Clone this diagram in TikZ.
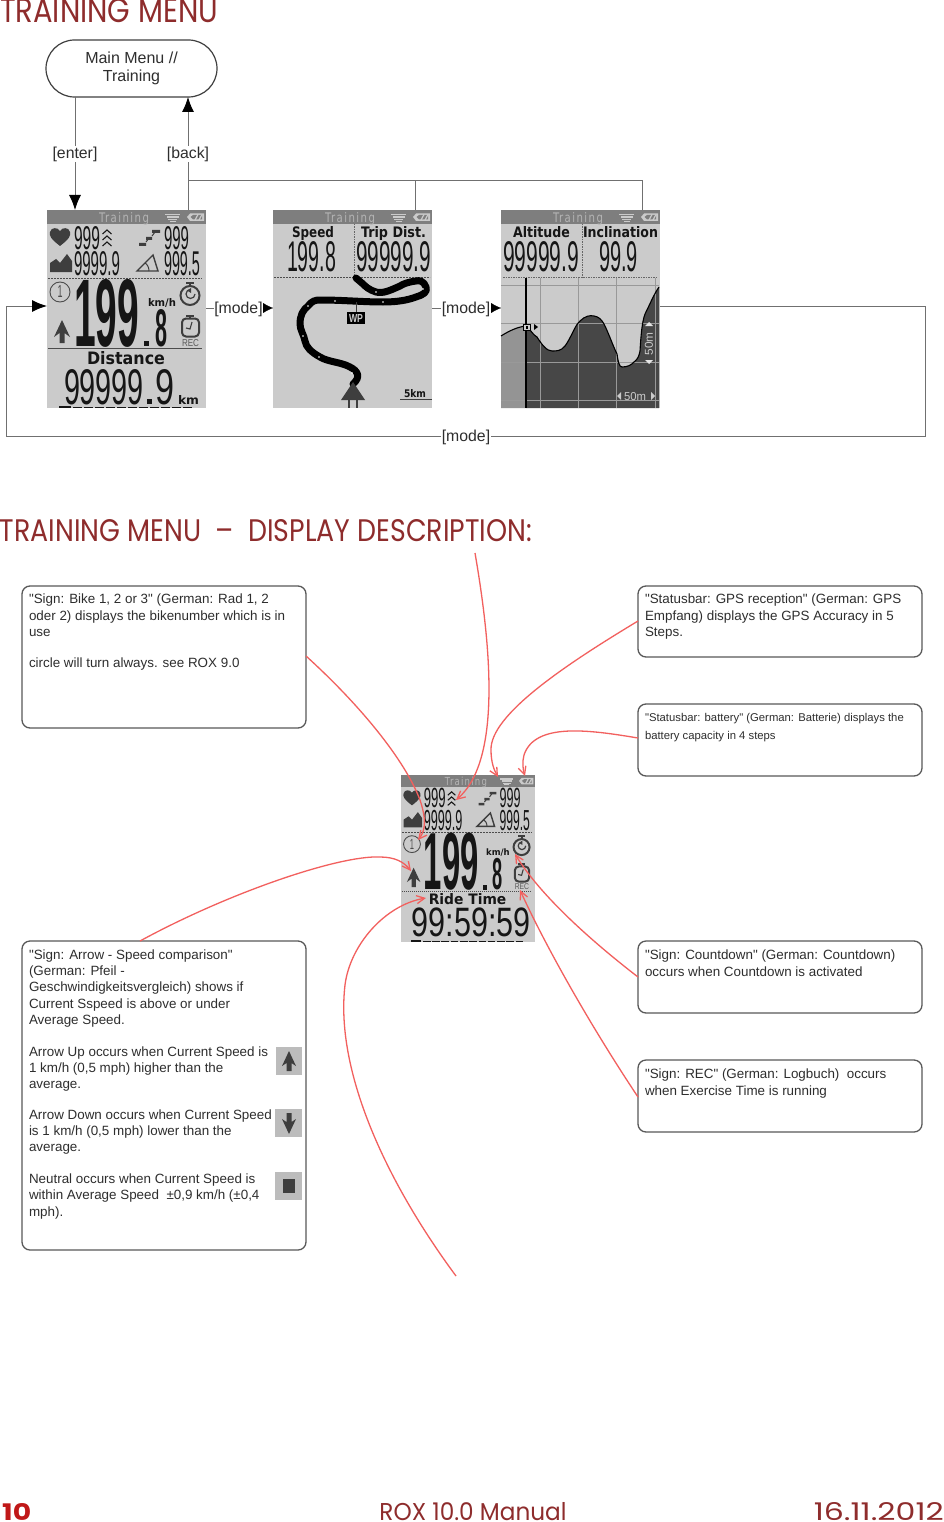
\documentclass[tikz,border=0pt]{standalone}
\usepackage{fontspec}
\usepackage{graphicx}
\setmainfont{Liberation Sans}
\newfontfamily\bodyf{Liberation Sans}
\newfontfamily\titlefont{Poppins}
\newfontfamily\lcdfont{Liberation Sans}
\newfontfamily\labfont{DejaVu Sans}
\usetikzlibrary{arrows.meta,shapes.misc}
\definecolor{lcdbg}{HTML}{CBCBCB}
\definecolor{lcdhead}{HTML}{7E7E7E}
\definecolor{lcdheadtxt}{HTML}{B4B4B4}
\definecolor{lcddark}{HTML}{3E3E3E}
\definecolor{lcdink}{HTML}{161616}
\definecolor{titlered}{HTML}{8E2C2C}
\definecolor{footred}{HTML}{C01818}
\definecolor{callout}{HTML}{F2605E}
\definecolor{wire}{HTML}{707070}
\definecolor{bodytxt}{HTML}{2E2E2E}
\definecolor{iconbg}{HTML}{BCBCBC}
\newcounter{tn}
\tikzset{
  x=1pt,y=-1pt,
  wireln/.style={draw=wire,line width=1pt},
  bigtip/.style={-{Latex[black,length=15pt,width=12pt]}},
  smalltip/.style={-{Latex[black,length=10pt,width=10pt]}},
  edgelab/.style={fill=white,inner sep=.5pt,font=\bodyf\fontsize{15.8}{17}\selectfont,text=bodytxt},
  menubox/.style={rounded rectangle,draw=black!75,line width=1.2pt,fill=white,minimum width=171pt,minimum height=57pt,inner sep=0pt,align=center,font=\bodyf\fontsize{16}{18}\selectfont,text=bodytxt},
  screen/.style={rectangle,fill=lcdbg,minimum width=159pt,minimum height=198pt,inner sep=0pt,outer sep=0pt,anchor=north west},
  lcdn/.style={inner sep=0pt,outer sep=0pt,anchor=north west,transform shape,text=lcdink},
  txtbox/.style={rectangle,rounded corners=8pt,draw=black!65,line width=1.3pt,fill=white},
  txtn/.style={inner sep=0pt,outer sep=0pt,anchor=north west,align=left,text=bodytxt},
  calloutln/.style={draw=callout,line width=1.3pt,-{Straight Barb[length=8pt,width=8pt]}},
  hdash/.style={draw=black!70,line width=.8pt,dash pattern=on 2pt off 1pt},
  vdash/.style={draw=black!60,line width=.8pt,dash pattern=on 1.5pt off 1pt},
}
% fit text exactly in box x,y,w,h
\newcommand\fit[6][lcdink]{\stepcounter{tn}\node[lcdn,text=#1] (t\arabic{tn}) at (#2,#3) {\resizebox{#4pt}{#5pt}{#6}};}
\newcommand\dg[5]{\fit{#1}{#2}{#3}{#4}{\lcdfont #5}}
\newcommand\bdg[5]{\fit{#1}{#2}{#3}{#4}{\lcdfont\bfseries #5}}
\newcommand\lab[5]{\fit{#1}{#2}{#3}{#4}{\labfont\bfseries #5}}
% header bar with icons
\newcommand\headbar{%
  \fill[lcdhead] (0,0) rectangle (159,14);
  \fit[lcdheadtxt]{52}{3}{50}{10}{\labfont\addfontfeature{LetterSpace=14}Training}
  \foreach \yy/\a in {4/0,6.5/1.5,9/3,11/4.5}{\fill[lcdbg] (118+\a,\yy) rectangle (133-\a,\yy+1.4);}
  \fill[lcdbg] (143,3.5) -- (157,3.5) -- (157,11) -- (143,11) -- (140,7) -- cycle;
  \fill[lcdhead] (146,5) -- (155,5) -- (155,9.5) -- (146,9.5) -- (143.5,7) -- cycle;
  \draw[lcdbg,line width=1.2pt] (148,10) -- (151,4.5) (152,10) -- (155,4.5);
}
\newcommand\bikeicon[2]{\begin{scope}[shift={(#1,#2)}]
  \draw[black!70,line width=.9pt] (0,0) circle (10);
  \fit[black!70]{-2.5}{-6}{5}{12}{\lcdfont 1}
\end{scope}}
\newcommand\upscreen{%
  \headbar
  % heart
  \fill[lcddark] (13,36) .. controls (4,29) and (2,26) .. (3,22) .. controls (4,17) and (11,17) .. (13,21) .. controls (15,17) and (22,17) .. (23,22) .. controls (24,26) and (22,29) .. (13,36) -- cycle;
  \dg{27}{16}{26}{23}{999}
  % chevrons
  \foreach \yy in {20,26,32}{\draw[lcdink,line width=1.1pt] (55.5,\yy+4) -- (60,\yy) -- (64.5,\yy+4);}
  % stairs
  \fill[lcddark] (92,33) rectangle (99,36) (99,27) rectangle (105,30) (105,20) rectangle (113,23);
  \draw[lcddark,line width=1pt] (99,32) -- (102,28) (105,26) -- (108,22);
  \dg{117}{16}{25}{23}{999}
  % mountain
  \fill[lcddark] (3,62) -- (3,53) -- (9,49) -- (13,53) -- (20,44) -- (25,51) -- (25,62) -- cycle;
  \dg{27}{42}{46}{24}{9999.9}
  % angle
  \draw[lcddark,line width=1.4pt] (90,61) -- (111,61) -- (106,45) -- cycle;
  \draw[lcddark,line width=1pt] (102,61) .. controls (102,57) and (100,54) .. (98,53);
  \dg{117}{42}{36}{24}{999.5}
  \draw[hdash] (1,68) -- (155,68);
  \bikeicon{13}{82}
  \bdg{27}{69}{65}{67}{199}
  \fill[lcdink] (97,131) rectangle (102,136);
  \bdg{108}{99}{12}{37}{8}
  \lab{101}{88}{28}{8}{km/h}
  % countdown timer
  \draw[lcddark,line width=2pt] (143,85.5) circle (9.5);
  \draw[lcddark,line width=2pt] (139,72.5) -- (147,72.5) (143,72.5) -- (143,76);
  \draw[lcddark,line width=1.2pt] (148,84) arc (0:270:4.5);
  \fill[lcddark] (143,76.5) ++(-3,4) -- ++(4,-2.5) -- ++(0,5) -- cycle;
  % rec clock
  \draw[lcddark,line width=2pt,rounded corners=4pt] (135,108.5) rectangle (152,126.5);
  \draw[lcddark,line width=2pt] (139,105.5) -- (147,105.5) (143,105.5) -- (143,108.5);
  \draw[lcddark,line width=1.1pt] (145,112) -- (143,119) -- (139,118);
  \fit[black!65]{135}{129}{17}{7}{\lcdfont REC}
  % speed arrow
  \fill[lcddark] (15,110) -- (23,127) -- (17.5,123) -- (17.5,133) -- (12.5,133) -- (12.5,123) -- (7,127) -- cycle;
  \draw[hdash,dash pattern=on 1.5pt off .5pt] (1,138) -- (155,138);
}
\newcommand\progressbar{%
  \fill[lcdink] (12,195.5) rectangle (24,198);
  \foreach \q in {26,37,...,136}{\fill[lcdink] (\q,196.5) rectangle (\q+9,197.3);}
}
\begin{document}
\begin{tikzpicture}
\useasboundingbox (0,0) rectangle (944,1522);
\fill[white] (0,0) rectangle (944,1522);
% ---- titles
\node[lcdn,text=titlered] (title1) at (0,-2) {\resizebox{218pt}{24pt}{\titlefont TRAINING MENU}};
\node[lcdn,text=titlered] (title2) at (0,519) {\resizebox{532pt}{22pt}{\titlefont TRAINING MENU\ \ –\ \ DISPLAY DESCRIPTION:}};
% ---- top flow
\node[menubox] (menu) at (131.5,68.5) {Main Menu //\\Training};
\node[screen] (s1) at (47,210) {};
\node[screen] (s2) at (273,210) {};
\node[screen] (s3) at (501,210) {};
% screen 1
\begin{scope}[shift={(47,210)}]
  \upscreen
  \lab{40}{141}{78}{13}{Distance}
  \dg{17}{159}{80}{35}{99999}
  \fill[lcdink] (100,189) rectangle (105,194);
  \dg{108}{159}{19}{35}{9}
  \lab{131}{185}{21}{9}{km}
  \progressbar
\end{scope}
% screen 2
\begin{scope}[shift={(273,210)}]
  \headbar
  \lab{19}{16}{42}{11}{Speed}
  \dg{14}{32}{49}{30}{199.8}
  \draw[vdash] (81,14) -- (81,67);
  \lab{88}{16}{65}{11}{Trip Dist.}
  \dg{83}{32}{75}{30}{99999.9}
  \draw[hdash] (1,67) -- (157,67);
  \draw[black,line width=7pt,line cap=round,line join=round]
    (80,174) .. controls (88,167) and (85,161) .. (77,157)
    .. controls (68,152) and (55,152) .. (47,147)
    .. controls (38,142) and (33,137) .. (32,131)
    .. controls (31,125) and (27,120) .. (27,114)
    .. controls (27,105) and (30,100) .. (35,96)
    .. controls (39,91) and (42,90) .. (47,90)
    .. controls (70,90) and (90,92) .. (110,92)
    .. controls (125,92) and (135,90) .. (143,87)
    .. controls (150,85) and (155,82) .. (153,77)
    .. controls (151,71) and (146,70) .. (143,71)
    .. controls (135,72) and (130,74) .. (127,76)
    .. controls (118,80) and (110,84) .. (103,82)
    .. controls (96,80) and (92,76) .. (90,74)
    -- (83,68);
  \foreach \px/\py in {79/163, 46/147, 30/126, 35/96, 62/91, 110/92, 150/79, 103/82}{\fill[white] (\px,\py) circle (.9);}
  \draw[lcddark,line width=1pt] (83,92) -- (83,102);
  \fill[black] (74,102) rectangle (92,114);
  \fit[lcdbg]{76}{104}{14}{8}{\lcdfont\bfseries WP}
  \fill[lcddark] (80,172) -- (92,190) -- (68,190) -- cycle;
  \draw[lcddark,line width=1.5pt] (76,188) -- (76,198) (84,188) -- (84,198);
  \lab{131}{179}{22}{8}{5km}
  \draw[lcddark,line width=1pt] (127,189) -- (159,189);
\end{scope}
% screen 3
\begin{scope}[shift={(501,210)}]
  \headbar
  \lab{12}{16}{57}{11}{Altitude}
  \lab{82}{16}{75}{11}{Inclination}
  \dg{2}{32}{76}{30}{99999.9}
  \dg{98}{32}{39}{30}{99.9}
  \draw[vdash] (81,14) -- (81,67);
  \draw[vdash] (2,67) -- (157,67);
  \fill[black!42] (0,198) -- (0,126) .. controls (8,121) and (16,117) .. (25,116) -- (25,198) -- cycle;
  \fill[black!72] (25,198) -- (25,116) .. controls (30,120) and (32,125) .. (36,127)
    .. controls (41,135) and (46,141) .. (51,141) .. controls (56,141) and (60,141) .. (64,136)
    .. controls (70,128) and (74,115) .. (79,111) .. controls (84,106) and (89,105) .. (93,106)
    .. controls (98,107) and (100,109) .. (103,114) .. controls (108,124) and (112,136) .. (116,144)
    .. controls (117,151) and (118,157) .. (121,157) .. controls (127,157) and (130,155) .. (133,152)
    .. controls (137,149) and (138,146) .. (139,141) .. controls (140,125) and (141,112) .. (144,104)
    .. controls (149,94) and (153,84) .. (158,77) -- (158,198) -- cycle;
  \foreach \gy in {75,113,152,190}{\draw[black!40,line width=.9pt] (0,\gy) -- (158,\gy);}
  \foreach \gx in {39,77,115,154}{\draw[black!40,line width=.9pt] (\gx,68) -- (\gx,198);}
  \draw[black,line width=1.1pt] (0,126) .. controls (8,121) and (16,117) .. (25,116) .. controls (30,120) and (32,125) .. (36,127)
    .. controls (41,135) and (46,141) .. (51,141) .. controls (56,141) and (60,141) .. (64,136)
    .. controls (70,128) and (74,115) .. (79,111) .. controls (84,106) and (89,105) .. (93,106)
    .. controls (98,107) and (100,109) .. (103,114) .. controls (108,124) and (112,136) .. (116,144)
    .. controls (117,151) and (118,157) .. (121,157) .. controls (127,157) and (130,155) .. (133,152)
    .. controls (137,149) and (138,146) .. (139,141) .. controls (140,125) and (141,112) .. (144,104)
    .. controls (149,94) and (153,84) .. (158,77);
  \draw[black,line width=1.3pt] (25,68) -- (25,198);
  \draw[black,line width=1pt,fill=lcdbg] (22.5,114) rectangle (29.5,120.5);
  \fill[black] (25,116) rectangle (27,118.5);
  \fill[black] (33,114) -- (37,117) -- (33,120) -- cycle;
  % scale labels
  \node[lcdn,text=lcdbg,rotate=90,anchor=center] (vscale) at (148,134) {\resizebox{23pt}{8pt}{\lcdfont 50m}};
  \fill[white!90!black] (144,116) -- (152,116) -- (148,112) -- cycle;
  \fill[white!90!black] (144,150) -- (152,150) -- (148,154) -- cycle;
  \fit[lcdbg]{123}{182}{22}{8}{\lcdfont 50m}
  \fill[lcdbg] (120,182) -- (120,190) -- (116,186) -- cycle;
  \fill[lcdbg] (150,182) -- (150,190) -- (154,186) -- cycle;
\end{scope}
% connectors: top flow
\coordinate (enterA) at (75,97);
\coordinate (enterB) at (75,210);
\coordinate (backA) at (188,210);
\coordinate (backB) at (188,97);
\coordinate (busA) at (188,181);
\coordinate (busB) at (415,181);
\coordinate (busC) at (642,181);
\coordinate (busBd) at (415,210);
\coordinate (busCd) at (642,210);
\draw[wireln,bigtip] (enterA) -- node[edgelab,pos=.505] (lenter) {[enter]} (enterB);
\draw[wireln,bigtip] (backA) -- node[edgelab,pos=.495] (lback) {[back]} (backB);
\draw[wireln] (busA) -- (busC) -- (busCd) (busB) -- (busBd);
\coordinate (s1e) at (206,308);
\coordinate (s2w) at (273,308);
\coordinate (s2e) at (432,308);
\coordinate (s3w) at (501,308);
\node[edgelab] (m1) at (238.5,309) {[mode]};
\node[edgelab] (m2) at (466,309) {[mode]};
\draw[wireln] (s1e) -- (m1.west |- s1e);
\draw[wireln] (s2e) -- (m2.west |- s2e);
\draw[smalltip,line width=.1pt] (m1.east |- s2w) -- (s2w);
\draw[smalltip,line width=.1pt] (m2.east |- s3w) -- (s3w);
\coordinate (s3r) at (660,306);
\coordinate (c1) at (925,306);
\coordinate (c2) at (925,436);
\coordinate (c3) at (6,436);
\coordinate (c4) at (6,306);
\coordinate (s1w) at (47,306);
\node[edgelab] (m3) at (466,437.5) {[mode]};
\draw[wireln] (s3r) -- (c1) -- (c2) -- (m3.east |- c2);
\draw[wireln,bigtip] (m3.west |- c3) -- (c3) -- (c4) -- (s1w);
% ---- description boxes
\draw[txtbox] (22,586) rectangle (306,728);
\draw[txtbox] (638,586) rectangle (922,657);
\draw[txtbox] (638,704) rectangle (922,776);
\draw[txtbox] (638,941) rectangle (922,1013);
\draw[txtbox] (638,1060) rectangle (922,1132);
\draw[txtbox] (22,941) rectangle (306,1250);
\node[txtn,font=\bodyf\fontsize{13.4}{16.5}\selectfont] (ta) at (29,594) {"Sign: Bike 1, 2 or 3" (German: Rad 1, 2\\oder 2) displays the bikenumber which is in\\use\\[14.5pt]circle will turn always. see ROX 9.0};
\node[txtn,font=\bodyf\fontsize{13.4}{16.5}\selectfont] (tb) at (645,594) {"Statusbar: GPS reception" (German: GPS\\Empfang) displays the GPS Accuracy in 5\\Steps.};
\node[txtn,font=\bodyf\fontsize{11.3}{18.4}\selectfont] (tc) at (645,713) {"Statusbar: battery" (German: Batterie) displays the\\battery capacity in 4 steps};
\node[txtn,font=\bodyf\fontsize{13.4}{16.5}\selectfont] (td) at (645,950) {"Sign: Countdown" (German: Countdown)\\occurs when Countdown is activated};
\node[txtn,font=\bodyf\fontsize{13.4}{16.5}\selectfont] (te) at (645,1069) {"Sign: REC" (German: Logbuch)\ \ occurs\\when Exercise Time is running};
\node[txtn,font=\bodyf\fontsize{13.4}{16.1}\selectfont] (tf) at (29,950) {"Sign: Arrow - Speed comparison"\\(German: Pfeil -\\Geschwindigkeitsvergleich) shows if\\Current Sspeed is above or under\\Average Speed.\\[16pt]Arrow Up occurs when Current Speed is\\1 km/h (0,5 mph) higher than the\\average.\\[15pt]Arrow Down occurs when Current Speed\\is 1 km/h (0,5 mph) lower than the\\average.\\[16pt]Neutral occurs when Current Speed is\\within Average Speed\ \ ±0,9 km/h (±0,4\\mph).};
% icons in box F
\fill[iconbg] (276,1047) rectangle (302,1075);
\fill[lcddark] (289,1051) -- (296,1066) -- (291.5,1063) -- (291.5,1071) -- (286.5,1071) -- (286.5,1063) -- (282,1066) -- cycle;
\fill[iconbg] (275,1109) rectangle (302,1137);
\fill[lcddark] (289,1134) -- (296,1119) -- (291.5,1122) -- (291.5,1113) -- (286.5,1113) -- (286.5,1122) -- (282,1119) -- cycle;
\fill[iconbg] (275,1172) rectangle (302,1200);
\fill[lcddark] (282.5,1179) rectangle (295,1193);
% ---- small screen
\node[screen,minimum width=134pt,minimum height=166.7pt] (s4) at (401,775) {};
\begin{scope}[shift={(401,775)},scale=.843]
  \upscreen
  \lab{33}{141}{92}{13}{Ride Time}
  \dg{13}{158}{141}{34}{99:59:59}
  \progressbar
\end{scope}
% ---- callouts
\coordinate (ra1) at (306,656);
\coordinate (ra2) at (418,840);
\coordinate (rb0) at (475,553);
\coordinate (rb1) at (456,800);
\coordinate (rc1) at (638,621);
\coordinate (rc2) at (498,777);
\coordinate (rd1) at (638,738);
\coordinate (rd2) at (525,776);
\coordinate (re1) at (638,977);
\coordinate (re2) at (515,854);
\coordinate (rf1) at (638,1097);
\coordinate (rf2) at (520,890);
\coordinate (rg1) at (140,941);
\coordinate (rg2) at (411,871);
\coordinate (rh1) at (456,1276);
\coordinate (rh2) at (426,898);
\draw[calloutln] (ra1) .. controls (360,705) and (405,760) .. (420,800) .. controls (426,818) and (426,830) .. (ra2);
\draw[calloutln] (rb0) .. controls (490,640) and (503,760) .. (rb1);
\draw[calloutln] (rc1) .. controls (565,665) and (490,715) .. (491,750) .. controls (491,762) and (494,770) .. (rc2);
\draw[calloutln] (rd1) .. controls (590,730) and (535,722) .. (524,755) .. controls (522,762) and (523,770) .. (rd2);
\draw[calloutln] (re1) .. controls (590,940) and (540,895) .. (re2);
\draw[calloutln] (rf1) .. controls (590,1025) and (545,945) .. (rf2);
\draw[calloutln] (rg1) .. controls (230,892) and (340,855) .. (380,857) .. controls (395,857) and (404,862) .. (rg2);
\draw[calloutln] (rh1) .. controls (385,1180) and (335,1070) .. (345,985) .. controls (350,945) and (385,905) .. (rh2);
% ---- footer
\node[anchor=west,inner sep=0pt,text=footred] (f1) at (2,1511.5) {\resizebox{29pt}{17pt}{\titlefont\bfseries 10}};
\node[anchor=center,inner sep=0pt,text=titlered] (f2) at (473,1511.5) {\resizebox{187pt}{18pt}{\titlefont ROX 10.0 Manual}};
\node[anchor=east,inner sep=0pt,text=titlered] (f3) at (944,1511.5) {\resizebox{130pt}{18pt}{\titlefont 16.11.2012}};
\end{tikzpicture}
\end{document}
